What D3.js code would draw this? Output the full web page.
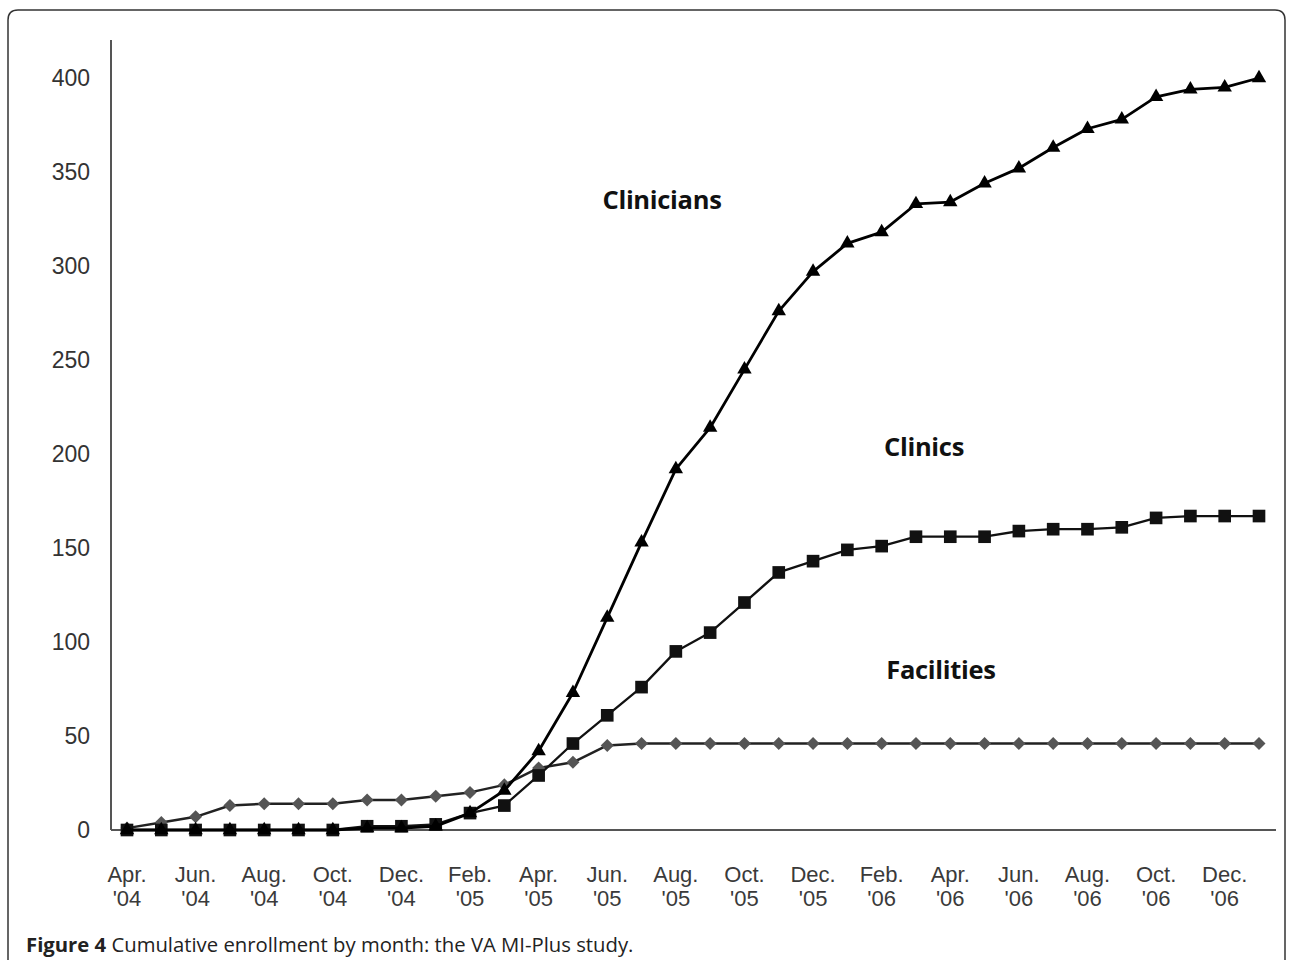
<!DOCTYPE html>
<html>
<head>
<meta charset="utf-8">
<script src="https://cdn.jsdelivr.net/npm/d3@7"></script>
<style>
  body { margin: 0; background: #fff; }
  svg { display: block; }
</style>
</head>
<body>
<div id="chart"></div>
<script>
// months Apr '04 .. Jan '07
const MONTHS = [
  "Apr. '04","May '04","Jun. '04","Jul. '04","Aug. '04","Sep. '04","Oct. '04","Nov. '04","Dec. '04",
  "Jan. '05","Feb. '05","Mar. '05","Apr. '05","May '05","Jun. '05","Jul. '05","Aug. '05","Sep. '05","Oct. '05","Nov. '05","Dec. '05",
  "Jan. '06","Feb. '06","Mar. '06","Apr. '06","May '06","Jun. '06","Jul. '06","Aug. '06","Sep. '06","Oct. '06","Nov. '06","Dec. '06",
  "Jan. '07"
];

const CLINICIANS = [0,0,0,0,0,0,0,1,1,2,9,21,42,73,113,153,192,214,245,276,297,312,318,333,334,344,352,363,373,378,390,394,395,400];
const CLINICS     = [0,0,0,0,0,0,0,2,2,3,9,13,29,46,61,76,95,105,121,137,143,149,151,156,156,156,159,160,160,161,166,167,167,167];
const FACILITIES  = [1,4,7,13,14,14,14,16,16,18,20,24,33,36,45,46,46,46,46,46,46,46,46,46,46,46,46,46,46,46,46,46,46,46];

const Y_TICKS = [0,50,100,150,200,250,300,350,400];
// every other month gets a label
const X_TICK_MONTHS = MONTHS.filter((m, i) => i % 2 === 0);

const width = 1290, height = 960;

const svg = d3.select("#chart").append("svg")
  .attr("width", width)
  .attr("height", height);

// ---- frame ----
svg.append("path")
  .attr("fill", "none")
  .attr("stroke", "#333")
  .attr("stroke-width", 1.5)
  .attr("d", "M8,972 L8,20 Q8,10 18,10 L1275,10 Q1285,10 1285,20 L1285,972");

const x = d3.scalePoint().domain(MONTHS).range([127, 1259]);
const y = d3.scaleLinear().domain([0, 400]).range([830, 78]);

// ---- axes ----
svg.append("line")
  .attr("x1", 111).attr("x2", 111).attr("y1", 40).attr("y2", y(0))
  .attr("stroke", "#555").attr("stroke-width", 2);
svg.append("line")
  .attr("x1", 111).attr("x2", 1276).attr("y1", y(0)).attr("y2", y(0))
  .attr("stroke", "#555").attr("stroke-width", 2);

svg.selectAll("text.ytick")
  .data(Y_TICKS)
  .enter().append("text")
  .attr("class", "ytick")
  .attr("x", 90)
  .attr("y", d => y(d))
  .attr("dy", "0.36em")
  .attr("text-anchor", "end")
  .attr("font-family", "Liberation Sans, Arial, sans-serif")
  .attr("font-size", 23)
  .attr("fill", "#333")
  .text(d => d);

const xt = svg.selectAll("text.xtick")
  .data(X_TICK_MONTHS)
  .enter().append("text")
  .attr("class", "xtick")
  .attr("text-anchor", "middle")
  .attr("font-family", "Liberation Sans, Arial, sans-serif")
  .attr("font-size", 22)
  .attr("fill", "#3a3a3a");
xt.append("tspan").attr("x", d => x(d)).attr("y", 882).text(d => d.split(" ")[0]);
xt.append("tspan").attr("x", d => x(d)).attr("y", 906).text(d => d.split(" ")[1]);

// ---- lines ----
const line = d3.line()
  .x((d, i) => x(MONTHS[i]))
  .y(d => y(d));

function drawSeries(values, stroke, strokeW, symbol, size, fill, rotate) {
  svg.append("path")
    .datum(values)
    .attr("fill", "none")
    .attr("stroke", stroke)
    .attr("stroke-width", strokeW)
    .attr("stroke-linejoin", "round")
    .attr("d", line);

  const sym = d3.symbol().type(symbol).size(size);
  svg.append("g").selectAll("path")
    .data(values)
    .enter().append("path")
    .attr("d", sym)
    .attr("fill", fill)
    .attr("transform", (d, i) => `translate(${x(MONTHS[i])},${y(d)}) rotate(${rotate})`);
}

drawSeries(FACILITIES, "#222", 2.5, d3.symbolSquare, 85, "#555", 45);
drawSeries(CLINICS, "#111", 2.3, d3.symbolSquare, 160, "#111", 0);
drawSeries(CLINICIANS, "#000", 2.8, d3.symbolTriangle, 90, "#000", 0);

// ---- series labels ----
const labelFont = "'Open Sans', Lato, sans-serif";
[
  { text: "Clinicians", x: 662, y: 200 },
  { text: "Clinics",    x: 924, y: 447 },
  { text: "Facilities", x: 941, y: 670 }
].forEach(l => {
  svg.append("text")
    .attr("x", l.x).attr("y", l.y)
    .attr("dy", "0.35em")
    .attr("text-anchor", "middle")
    .attr("font-family", labelFont)
    .attr("font-weight", "bold")
    .attr("font-size", 25.5)
    .attr("letter-spacing", -0.3)
    .attr("fill", "#111")
    .text(l.text);
});

// ---- caption ----
const cap = svg.append("text")
  .attr("x", 26).attr("y", 952)
  .attr("font-family", "'Open Sans', sans-serif")
  .attr("font-size", 20.3)
  .attr("fill", "#222");
cap.append("tspan").attr("font-weight", "bold").text("Figure 4");
cap.append("tspan").text(" Cumulative enrollment by month: the VA MI-Plus study.");
</script>
</body>
</html>
